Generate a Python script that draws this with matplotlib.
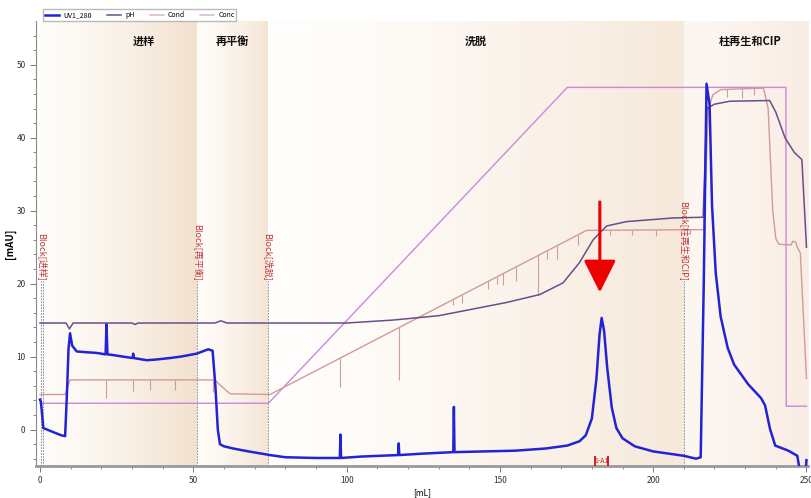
import numpy as np
import matplotlib
matplotlib.use("Agg")
import matplotlib.pyplot as plt
from matplotlib.colors import LinearSegmentedColormap
from matplotlib.lines import Line2D

plt.rcParams['font.family'] = ['Noto Sans CJK SC', 'DejaVu Sans']

# ---- data (volume in mL, signal in mAU scale) ----
uv_ml = [0, 0.3, 1.1, 4, 7, 8.2, 8.8, 9.3, 9.8, 10.5, 12, 15, 18.5, 21.4, 21.7, 22.0,
         24, 27, 30.2, 30.4, 30.6, 34.8, 38, 42.4, 46, 51.1, 54.9, 56.3, 57.2, 58, 58.7,
         60, 63, 68, 75, 80, 90, 97.8, 98, 98.2, 105, 116.8, 117, 117.2, 125, 134.8, 135,
         135.2, 145, 155, 165, 172, 176, 178, 180, 181.5, 182.5, 183.2, 184, 185, 186.5,
         188, 190, 194, 200, 205, 210, 214, 215.5, 216.5, 217.4, 218.4, 219.2, 220.4, 222,
         224.3, 226.4, 231, 235.2, 236.5, 238.1, 239.8, 244.1, 247, 248, 249.7, 250]
uv_mau = [4.1, 3.8, 0.2, -0.3, -0.8, -0.9, 5, 11, 13.2, 11.5, 10.7, 10.6, 10.5, 10.3, 14.4, 10.3,
          10.2, 10.0, 9.8, 10.4, 9.8, 9.5, 9.6, 9.8, 10.0, 10.4, 11.0, 10.8, 6, 0, -2.0,
          -2.3, -2.6, -3.0, -3.5, -3.8, -3.9, -3.9, -0.7, -3.9, -3.7, -3.5, -1.9, -3.5, -3.3, -3.1, 3.1,
          -3.1, -3.0, -2.9, -2.6, -2.2, -1.6, -0.8, 1.5, 7, 13, 15.3, 13.5, 8.5, 3,
          0.2, -1.2, -2.3, -3.0, -3.3, -3.6, -4.0, -3.8, 20, 47.4, 44.6, 30.7, 21.5, 15.5,
          11.2, 8.9, 6.2, 4.3, 3.3, 0.1, -2.2, -2.9, -3.6, -6, -6, -4.2]

ph_ml = [0, 8.5, 9.6, 10.8, 30, 31, 32, 57, 59, 61, 100, 115, 130, 152, 163, 170.6, 176,
         180.4, 184.8, 191.3, 206.5, 216.3, 217.5, 220, 225, 238, 240, 243, 246, 248.5, 250]
ph_val = [14.6, 14.6, 13.8, 14.6, 14.6, 14.4, 14.6, 14.6, 14.9, 14.6, 14.6, 15.0, 15.6, 17.4,
          18.5, 20.1, 22.9, 26.0, 27.9, 28.5, 29.0, 29.1, 44.0, 44.6, 45.0, 45.1, 43.5, 40.0,
          38.0, 37.0, 25.0]

cond_ml = [0, 8.2, 9.8, 57, 59, 62, 75, 178.3, 216.5, 218, 219.5, 222, 236, 237.5, 239, 240,
           241, 245, 245.5, 246.5, 247, 248, 250]
cond_val = [4.8, 4.8, 6.8, 6.8, 6.0, 4.9, 4.8, 27.3, 27.4, 44.0, 45.9, 46.6, 46.8, 44.0, 30.0,
            26.2, 25.4, 25.3, 25.8, 25.7, 25.0, 24.2, 7.0]
# downward glitches on the conductivity trace: position, top, bottom
spike_ml = [21.5, 30.4, 35.9, 44.1, 56.3, 98, 117, 134.8, 137.5, 146, 149, 151, 155.3,
            162.5, 165.3, 168.5, 175.5, 186, 193, 201, 212, 224, 229, 233]
spike_top = [6.8, 6.8, 6.8, 6.8, 6.8, 9.8, 14.0, 17.8, 18.4, 20.3, 20.9, 21.4, 22.3,
             23.9, 24.5, 25.2, 26.7, 27.3, 27.3, 27.3, 27.3, 46.7, 46.7, 46.8]
spike_bot = [4.3, 5.3, 5.4, 5.4, 5.1, 5.8, 6.8, 17.1, 17.3, 19.2, 19.9, 19.8, 20.3,
             18.4, 23.4, 23.4, 25.3, 26.6, 26.7, 26.5, 26.8, 45.6, 45.4, 45.9]

conc_ml = [0, 74.5, 172, 243.3, 243.4, 250]
conc_val = [3.6, 3.6, 46.9, 46.9, 3.2, 3.2]

blocks = ['进样', '再平衡', '洗脱', '柱再生和CIP']
block_start = [0, 51.2, 74.4, 210]
block_end = [51.2, 74.4, 210, 250.5]
title_ml = [34, 62.6, 142, 231.5]
block_label_ml = [0.7, 51.2, 74.4, 210]
marker_ml = [0.3, 1.1, 51.2, 74.4, 210]

frac_ml = [181.0, 185.3]
frac_label = '1-A1'

# ---- figure ----
fig = plt.figure(figsize=(8.12, 4.98), dpi=100)
ax = fig.add_axes([36 / 812, 32 / 498, 772 / 812, 445 / 498])
xlim = (-1.3, 250.5)
ylim = (-5, 56)

# shaded phase blocks, light on the left, darker on the right
grad = np.linspace(0, 1, 256).reshape(1, -1) ** 1.4
shade = [('#fefcf9', '#f3e1cf'), ('#fffcf8', '#f4e4d4'),
         ('#fffefc', '#f6e8da'), ('#fdf7f2', '#f8ece3')]
for x0, x1, (c0, c1) in zip(block_start, block_end, shade):
    cmap = LinearSegmentedColormap.from_list('blk', [c0, c1])
    ax.imshow(grad, extent=[x0, x1, ylim[0], ylim[1]], aspect='auto', cmap=cmap,
              zorder=0, interpolation='bilinear')

for name, xm in zip(blocks, title_ml):
    ax.text(xm, 53.2, name, ha='center', va='center', fontsize=8, fontweight='bold',
            color='#111111', zorder=5)

# block markers
for xm in marker_ml:
    ax.plot([xm, xm], [ylim[0], 20.4], color='#7a7a95', lw=0.6, ls=(0, (2, 1.5)), zorder=1)
for name, xm in zip(blocks, block_label_ml):
    ax.text(xm, 20.4, 'Block[' + name + ']', rotation=270, ha='center', va='bottom',
            fontsize=6.5, color='#c03838', zorder=6,
            family=['Noto Sans CJK SC', 'DejaVu Sans'])

# curves
ax.plot(conc_ml, conc_val, color='#c98ad8', lw=1.0, zorder=2)
ax.plot(cond_ml, cond_val, color='#cf9c96', lw=1.0, zorder=2)
ax.vlines(spike_ml, spike_bot, spike_top, color='#cf9c96', lw=0.8, zorder=2)
ax.plot(ph_ml, ph_val, color='#6b4d88', lw=1.1, zorder=3)
ax.plot(uv_ml, uv_mau, color='#2323d6', lw=1.8, zorder=4)

# fraction mark
ax.vlines(frac_ml, ylim[0], -3.6, color='#cc1f1f', lw=1.4, zorder=5)
ax.text(sum(frac_ml) / 2, -4.3, frac_label, ha='center', va='center', fontsize=5,
        color='#cc1f1f', zorder=5)

# red arrow pointing at the elution peak
ax.annotate('', xy=(182.6, 18.8), xytext=(182.6, 31.2),
            arrowprops=dict(arrowstyle='-|>,head_length=2.0,head_width=1.0',
                            color='#ee0000', lw=2.2, shrinkA=0, shrinkB=0), zorder=7)

ax.set_xlim(*xlim)
ax.set_ylim(*ylim)
ax.set_xticks(np.arange(0, 251, 50))
ax.set_xticks(np.arange(0, 251, 10), minor=True)
ax.set_yticks(np.arange(0, 51, 10))
ax.set_yticks(np.arange(-4, 56, 2), minor=True)
ax.tick_params(axis='both', which='major', labelsize=6, length=4, width=0.7,
               color='#777777', labelcolor='#333333')
ax.tick_params(axis='both', which='minor', length=2, width=0.6, color='#777777')
for s in ['top', 'right']:
    ax.spines[s].set_visible(False)
ax.spines['left'].set_color('#888888')
ax.spines['left'].set_linewidth(0.8)
ax.spines['bottom'].set_color('#999999')
ax.spines['bottom'].set_linewidth(2.0)

ax.set_ylabel('[mAU]', fontsize=7, fontweight='bold')
ax.yaxis.set_label_coords(-20 / 772, 0.5)
ax.set_xlabel('[mL]', fontsize=6)
ax.xaxis.set_label_coords(0.5, -22 / 445)

handles = [Line2D([], [], color='#2323d6', lw=1.8), Line2D([], [], color='#6b4d88', lw=1.1),
           Line2D([], [], color='#e0b8b8', lw=1.1), Line2D([], [], color='#d8b0e0', lw=1.1)]
fig.legend(handles, ['UV1_280', 'pH', 'Cond', 'Conc'], loc='upper left',
           bbox_to_anchor=(40 / 812, 1 - 6 / 498), ncol=4, fontsize=5, frameon=True,
           fancybox=False, edgecolor='#aaaaaa', handlelength=2.0, columnspacing=2.2,
           borderpad=0.25, handletextpad=0.6)

fig.savefig('out.png', dpi=100)
